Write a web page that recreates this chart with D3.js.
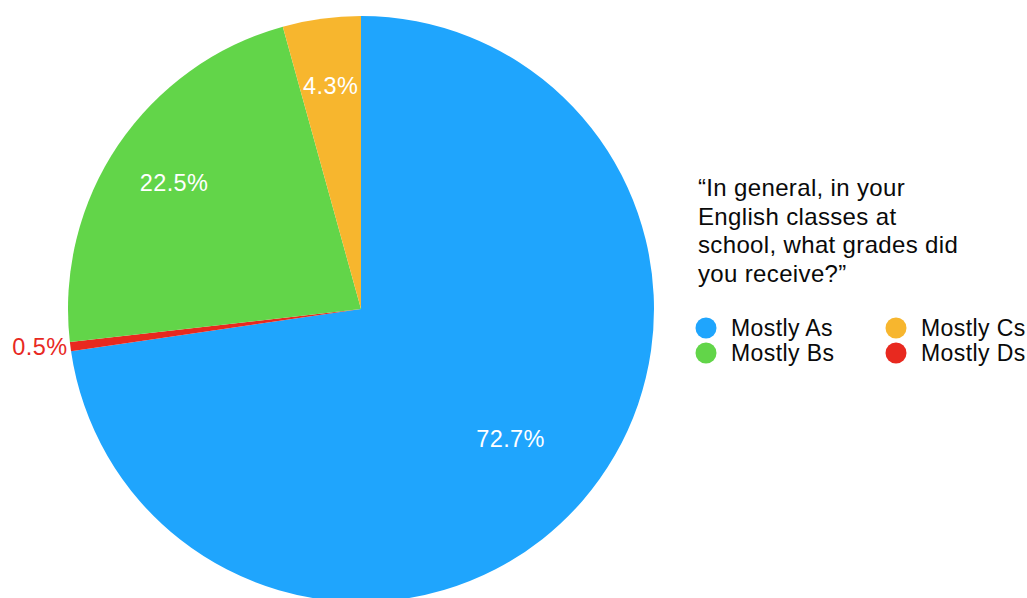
<!DOCTYPE html>
<html>
<head>
<meta charset="utf-8">
<script src="https://cdn.jsdelivr.net/npm/d3@7"></script>
<style>
  html, body { margin: 0; padding: 0; background: #fff; }
  svg { display: block; font-family: "Liberation Sans", Helvetica, Arial, sans-serif; }
</style>
</head>
<body>
<svg id="chart" width="1027" height="598"></svg>
<script>
// Survey answers, in the order the slices run clockwise from 12 o'clock
const sliceOrder = ["Mostly As", "Mostly Ds", "Mostly Bs", "Mostly Cs"];
const sliceValues = [72.7, 0.5, 22.5, 4.3];

// Legend order (filled column by column)
const legendLabels = ["Mostly As", "Mostly Bs", "Mostly Cs", "Mostly Ds"];
const palette = ["#1fa5fd", "#62d549", "#f7b62e", "#e8291f"];

const titleLines = [
  "\u201CIn general, in your",
  "English classes at",
  "school, what grades did",
  "you receive?\u201D"
];

const svg = d3.select("#chart");
const cx = 361, cy = 309, radius = 293;

const color = d3.scaleOrdinal().domain(legendLabels).range(palette);

const pie = d3.pie().sort(null).value(d => d.value);
const arcs = pie(sliceOrder.map((name, i) => ({ name, value: sliceValues[i] })));

const arc = d3.arc().innerRadius(0).outerRadius(radius);

const g = svg.append("g").attr("transform", `translate(${cx},${cy})`);

g.selectAll("path.slice")
  .data(arcs)
  .join("path")
  .attr("class", "slice")
  .attr("d", arc)
  .attr("fill", d => color(d.data.name));

// Value labels: inside for sizeable slices, outside (in slice colour) for tiny ones
const fmt = v => v.toFixed(1) + "%";
g.selectAll("text.value")
  .data(arcs)
  .join("text")
  .attr("class", "value")
  .each(function (d) {
    const share = d.data.value;
    const mid = (d.startAngle + d.endAngle) / 2;
    const sel = d3.select(this);
    if (share < 2) {
      const r = radius + 3;
      sel.attr("x", Math.sin(mid) * r)
        .attr("y", -Math.cos(mid) * r)
        .attr("text-anchor", "end")
        .attr("dy", "0.35em")
        .attr("fill", color(d.data.name));
    } else {
      const r = radius * (share > 50 ? 0.675 : 0.77);
      sel.attr("x", Math.sin(mid) * r)
        .attr("y", -Math.cos(mid) * r)
        .attr("text-anchor", "middle")
        .attr("dy", "0.35em")
        .attr("fill", "#ffffff");
    }
  })
  .style("font-size", "23.5px")
  .style("letter-spacing", "0.4px")
  .text(d => fmt(d.data.value));

// Legend title
const title = svg.append("text")
  .attr("x", 698)
  .attr("y", 196)
  .style("font-size", "24px")
  .style("letter-spacing", "0.35px")
  .attr("fill", "#0a0a0a");
title.selectAll("tspan")
  .data(titleLines)
  .join("tspan")
  .attr("x", 698)
  .attr("dy", (d, i) => i === 0 ? 0 : 28.7)
  .text(d => d);

// Legend entries in two columns
const legend = svg.append("g");
const items = legend.selectAll("g")
  .data(legendLabels)
  .join("g")
  .attr("transform", (d, i) => {
    const col = Math.floor(i / 2), row = i % 2;
    return `translate(${706 + col * 190},${328 + row * 25})`;
  });
items.append("circle")
  .attr("r", 10.5)
  .attr("fill", d => color(d));
items.append("text")
  .attr("x", 25)
  .attr("dy", "0.35em")
  .style("font-size", "23px")
  .style("letter-spacing", "0.4px")
  .attr("fill", "#0a0a0a")
  .text(d => d);
</script>
</body>
</html>
